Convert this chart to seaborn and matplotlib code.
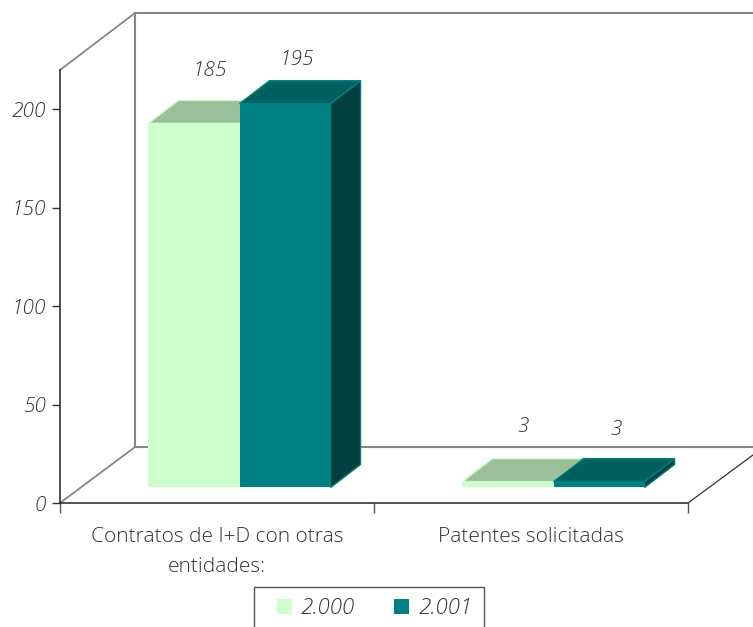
import matplotlib
matplotlib.use("Agg")
import matplotlib.pyplot as plt
import seaborn as sns
import pandas as pd
from matplotlib.lines import Line2D
from matplotlib.patches import Polygon, Rectangle
from matplotlib.transforms import Affine2D, IdentityTransform

categories = ["Contratos de I+D con otras\nentidades:", "Patentes solicitadas"]
years = ["2.000", "2.001"]
values_2000 = [185, 3]
values_2001 = [195, 3]
y_ticks = [0, 50, 100, 150, 200]

front_colors = ["#CCFFCC", "#008080"]
top_colors = ["#9BBF9B", "#006060"]
side_colors = ["#7FA07F", "#024040"]
text_color = "#333333"

df = pd.DataFrame({
    "categoria": categories * 2,
    "anio": [years[0]] * 2 + [years[1]] * 2,
    "valor": values_2000 + values_2001,
})

sns.set_style("white")
plt.rcParams["font.family"] = ["Open Sans", "DejaVu Sans"]
plt.rcParams["font.weight"] = 300

W, H = 753, 627
fig = plt.figure(figsize=(W / 100 + 1e-4, H / 100 + 1e-4), dpi=100)
ax = fig.add_axes([60 / W, (H - 503) / H, 628 / W, 433 / H])
ax.patch.set_alpha(0)

sns.barplot(data=df, x="categoria", y="valor", hue="anio", hue_order=years,
            palette=front_colors, width=0.58, gap=0, saturation=1, ax=ax,
            legend=False)
ax.set_xlim(-0.5, 1.5)
ax.set_ylim(0, 220)
ax.set_xlabel("")
ax.set_ylabel("")

# frame of the pseudo-3D box, in image pixels
img = Affine2D().scale(1, -1).translate(0, H)
grey = "#868686"
for xs, ys, c, lw in [
    ((60, 135), (70, 13), grey, 1.3),
    ((135, 753), (13, 13), grey, 1.5),
    ((135, 135), (13, 447), grey, 1.5),
    ((135, 753), (447, 447), grey, 1.5),
    ((60, 135), (503, 447), grey, 1.3),
    ((688, 753), (503, 455), "#333333", 0.9),
]:
    fig.add_artist(Line2D(xs, ys, color=c, lw=lw, transform=img, zorder=0))

# bars: shift off the front plane and add the depth faces
SHIFT_X, SHIFT_Y = 22.5, 15.5
DEPTH_X, DEPTH_Y = 30, 23
bars = [b for b in ax.patches if b.get_height() > 0]
bars.sort(key=lambda b: b.get_x())
nudges = [(16, 52), (12, 44), (15, 55), (17, 52)]
fig.canvas.draw()
for i, (bar, nudge) in enumerate(zip(bars, nudges)):
    s = 0 if bar.get_facecolor()[0] > 0.5 else 1
    z = 3 + i
    x0, y0 = ax.transData.transform((bar.get_x(), 0))
    x1, y1 = ax.transData.transform((bar.get_x() + bar.get_width(), bar.get_height()))
    x0 += SHIFT_X; x1 += SHIFT_X; y0 += SHIFT_Y; y1 += SHIFT_Y
    bar.set_transform(ax.transData + Affine2D().translate(SHIFT_X, SHIFT_Y))
    bar.set_clip_on(False)
    bar.set_zorder(z)
    bar.set_edgecolor("none")
    top = [(x0, y1), (x1, y1), (x1 + DEPTH_X, y1 + DEPTH_Y), (x0 + DEPTH_X, y1 + DEPTH_Y)]
    side = [(x1, y0), (x1 + DEPTH_X, y0 + DEPTH_Y), (x1 + DEPTH_X, y1 + DEPTH_Y), (x1, y1)]
    for pts, col in ((side, side_colors[s]), (top, top_colors[s])):
        ax.add_patch(Polygon(pts, closed=True, facecolor=col, edgecolor=front_colors[s],
                             lw=1.0, transform=IdentityTransform(), clip_on=False, zorder=z))
    ax.annotate(str(int(round(bar.get_height()))),
                xy=((x0 + x1) / 2 + nudge[0], y1 + nudge[1]), xycoords=IdentityTransform(),
                ha="center", va="center", fontsize=15, style="italic",
                color=text_color, annotation_clip=False, zorder=10)

# axes look
for name in ("top", "right"):
    ax.spines[name].set_visible(False)
for name in ("left", "bottom"):
    ax.spines[name].set_color("#333333")
    ax.spines[name].set_linewidth(1.2)
ax.set_yticks(y_ticks)
ax.tick_params(axis="y", left=True, length=6, width=1, color="#333333", pad=4,
               labelsize=15, labelcolor=text_color)
for t in ax.get_yticklabels():
    t.set_fontstyle("italic")
ax.set_xticks([-0.5, 0.5, 1.5])
ax.set_xticklabels([])
ax.tick_params(axis="x", which="major", bottom=True, length=7, width=1, color="#555555")
ax.set_xticks([0, 1], minor=True)
ax.set_xticklabels(categories, minor=True, fontsize=15, color=text_color, linespacing=1.62)
ax.tick_params(axis="x", which="minor", bottom=False, length=0, pad=17.5)

# legend, its box cut by the lower edge as in the source
fig.add_artist(Rectangle((254, 587), 230, 60, facecolor="white", edgecolor="#555555",
                         lw=1.0, transform=img, zorder=1))
handles = [Rectangle((0, 0), 1, 1, facecolor=c, edgecolor="none") for c in front_colors]
leg = fig.legend(handles, years, ncol=2, loc="center left",
                 bbox_to_anchor=(277, H - 608), bbox_transform=IdentityTransform(),
                 frameon=False,
                 prop={"size": 16, "style": "italic", "weight": 300},
                 handlelength=0.68, handleheight=0.68, handletextpad=0.4,
                 columnspacing=1.75, borderaxespad=0, borderpad=0)
leg.set_zorder(2)
for t in leg.get_texts():
    t.set_color(text_color)

fig.savefig("out.png", dpi=100)
